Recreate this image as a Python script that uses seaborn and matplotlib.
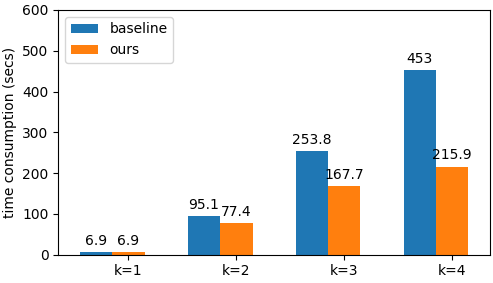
import pandas as pd
import matplotlib
matplotlib.use("Agg")
import matplotlib.pyplot as plt
import seaborn as sns

# values
ks = ["k=1", "k=2", "k=3", "k=4"]
baseline = [6.9, 95.1, 253.8, 453]
ours = [6.9, 77.4, 167.7, 215.9]

df = pd.DataFrame({
    "k": ks * 2,
    "time": baseline + ours,
    "method": ["baseline"] * len(ks) + ["ours"] * len(ks),
})

fig, ax = plt.subplots(figsize=(4.93, 2.83), dpi=100)
sns.barplot(data=df, x="k", y="time", hue="method", width=0.6,
            palette=["#1f77b4", "#ff7f0e"], saturation=1, ax=ax)

for cont in ax.containers:
    ax.bar_label(cont, fmt="%g", padding=3, fontsize=10)

# ticks sit under the "ours" bar in the original
ax.set_xticks([i + 0.15 for i in range(len(ks))])
ax.set_xticklabels(ks)
ax.set_xlim(-0.5, len(ks) - 0.5)
ax.set_ylim(0, 600)
ax.set_xlabel("")
ax.set_ylabel("time consumption (secs)")
ax.legend(loc="upper left", title=None)

fig.subplots_adjust(left=0.118, right=0.994, top=0.965, bottom=0.1)
fig.savefig("out.png", dpi=100)
